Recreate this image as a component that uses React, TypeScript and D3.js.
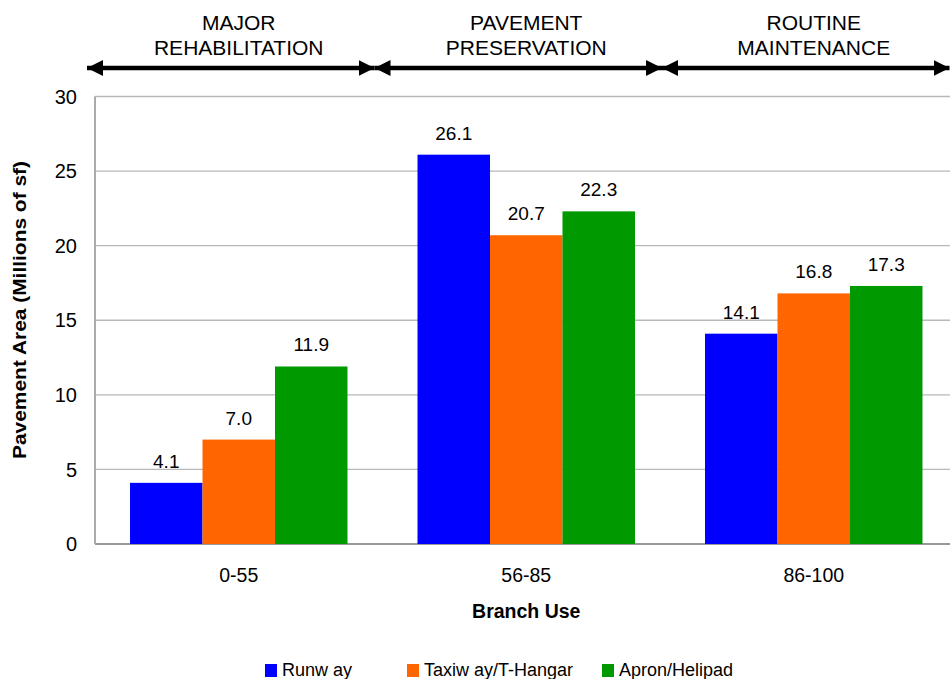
import React from "react";
import * as d3 from "d3";

const categories = ["0-55", "56-85", "86-100"];
const seriesNames = ["Runw ay", "Taxiw ay/T-Hangar", "Apron/Helipad"];
const runway = [4.1, 26.1, 14.1];
const taxiway = [7.0, 20.7, 16.8];
const apron = [11.9, 22.3, 17.3];
const yTicks = [0, 5, 10, 15, 20, 25, 30];
const phases = [["MAJOR", "REHABILITATION"], ["PAVEMENT", "PRESERVATION"], ["ROUTINE", "MAINTENANCE"]];
const colors = ["#0000FF", "#FF6600", "#009900"];

export default function App() {
  const W = 950, H = 679;
  const left = 95, right = 957.5, top = 96.5, bottom = 544;
  const series = [runway, taxiway, apron];
  const x = d3.scaleBand<string>().domain(categories).range([left, right]).paddingInner(0).paddingOuter(0);
  const inner = d3.scaleBand<number>().domain([0, 1, 2]).range([0, x.bandwidth()]).paddingOuter(0.483).paddingInner(0);
  const y = d3.scaleLinear().domain([0, 30]).range([bottom, top]);
  const font = "Liberation Sans, Arial, sans-serif";
  const arrowY = 68;
  const legendX = [265, 407, 602];

  return (
    <svg width={W} height={H} style={{ position: "absolute", left: 0, top: 0, background: "#fff" }} fontFamily={font}>
      <defs>
        <marker id="ah" viewBox="0 0 16 16" refX="16" refY="8" markerWidth="16" markerHeight="16" markerUnits="userSpaceOnUse" orient="auto-start-reverse">
          <path d="M0,0 L16,8 L0,16 Z" fill="#000" />
        </marker>
      </defs>
      {/* gridlines */}
      {yTicks.map((t) => (
        <line key={t} x1={left} x2={W} y1={y(t)} y2={y(t)} stroke={t === 0 ? "#999" : "#b8b8b8"} strokeWidth={t === 0 ? 2 : 1.3} />
      ))}
      <line x1={left} x2={left} y1={top} y2={bottom} stroke="#aaa" strokeWidth={2} />
      {yTicks.map((t) => (
        <text key={"l" + t} x={77} y={y(t)} dy="0.36em" textAnchor="end" fontSize={20} fill="#000">{t}</text>
      ))}
      {/* bars */}
      {categories.map((c, ci) =>
        series.map((s, si) => {
          const bx = (x(c) as number) + (inner(si) as number);
          const bw = inner.bandwidth();
          return (
            <g key={c + si}>
              <rect x={bx} y={y(s[ci])} width={bw} height={bottom - y(s[ci])} fill={colors[si]} />
              <text x={bx + bw / 2} y={y(s[ci]) - 15} textAnchor="middle" fontSize={19} fill="#000">{s[ci].toFixed(1)}</text>
            </g>
          );
        })
      )}
      {/* category labels */}
      {categories.map((c) => (
        <text key={c} x={(x(c) as number) + x.bandwidth() / 2} y={582} textAnchor="middle" fontSize={19.5} fill="#000">{c}</text>
      ))}
      <text x={(left + right) / 2} y={618} textAnchor="middle" fontSize={19.5} fontWeight="bold">Branch Use</text>
      <text transform="translate(25.5,310) rotate(-90)" textAnchor="middle" fontSize={18.5} fontWeight="bold" textLength={298} lengthAdjust="spacingAndGlyphs">Pavement Area (Millions of sf)</text>
      {/* phase arrows */}
      {categories.map((c, ci) => {
        const x0 = (x(c) as number) - 8;
        const x1 = (x(c) as number) + x.bandwidth() - 8;
        const cx = (x(c) as number) + x.bandwidth() / 2;
        return (
          <g key={"p" + c}>
            <line x1={x0} x2={x1} y1={arrowY} y2={arrowY} stroke="#000" strokeWidth={4.5} markerStart="url(#ah)" markerEnd="url(#ah)" />
            <text x={cx} y={30} textAnchor="middle" fontSize={21}>{phases[ci][0]}</text>
            <text x={cx} y={55} textAnchor="middle" fontSize={21}>{phases[ci][1]}</text>
          </g>
        );
      })}
      {/* legend */}
      {seriesNames.map((n, i) => (
        <g key={n}>
          <rect x={legendX[i]} y={664} width={12} height={13} fill={colors[i]} />
          <text x={legendX[i] + 17} y={676} fontSize={18}>{n}</text>
        </g>
      ))}
    </svg>
  );
}
